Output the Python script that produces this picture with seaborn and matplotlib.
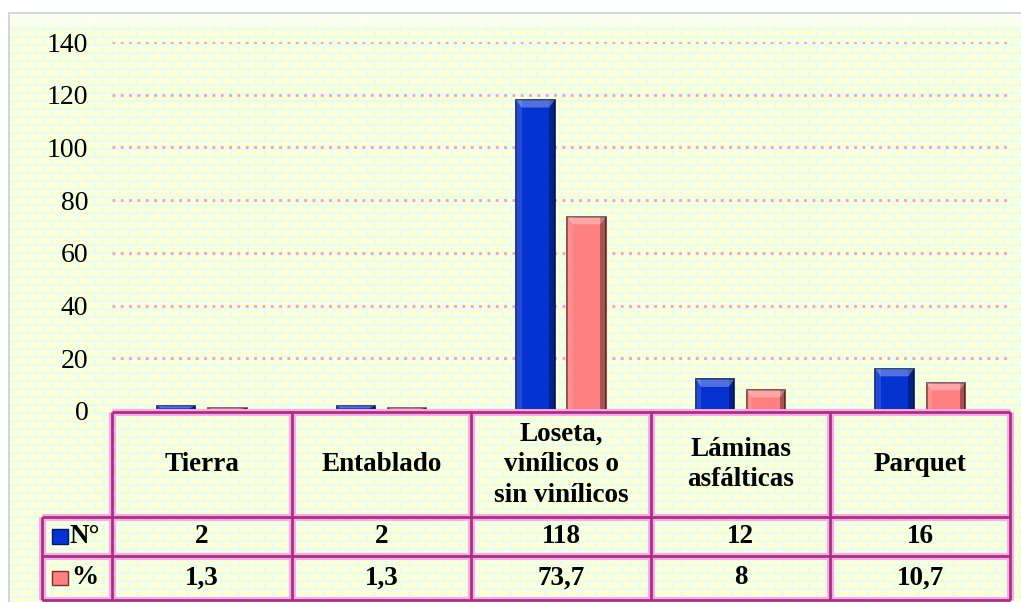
import numpy as np
import pandas as pd
import seaborn as sns
import matplotlib.pyplot as plt
from matplotlib.patches import Rectangle, Polygon

# data
categorias = ['Tierra', 'Entablado', 'Loseta,\nvinílicos o\nsin vinílicos',
              'Láminas\nasfálticas', 'Parquet']
n_valores = [2, 2, 118, 12, 16]
pct_valores = [1.3, 1.3, 73.7, 8, 10.7]
n_texto = ['2', '2', '118', '12', '16']
pct_texto = ['1,3', '1,3', '73,7', '8', '10,7']
series = ['N°', '%']
colores = ['#0533D2', '#FF8080']
bordes = ['#001A70', '#7A3030']
yticks = [0, 20, 40, 60, 80, 100, 120, 140]

df = pd.DataFrame({
    'categoria': categorias * 2,
    'valor': n_valores + pct_valores,
    'serie': [series[0]] * 5 + [series[1]] * 5,
})

W, H = 1021, 602
fig = plt.figure(figsize=(W / 100, H / 100), dpi=100)

# brick-like background
yy, xx = np.mgrid[0:H, 0:W]
fila = (yy - 12) // 8
pos_y = (yy - 12) % 8
pos_x = (xx + (fila % 2) * 8) % 17
mortero = (pos_y < 2) | (pos_x < 2)
amarillo = np.array([1.0, 1.0, 0.83])
cian = np.array([0.88, 1.0, 0.98])
img = np.where(mortero[..., None], cian, amarillo)
img[(xx < 8) | (yy < 12)] = 1.0
img[(yy >= 12) & (yy < 14) & (xx >= 8)] = [0.82, 0.85, 0.85]
img[(xx >= 8) & (xx < 10) & (yy >= 12)] = [0.82, 0.85, 0.85]
brillo = (yy >= 14) & (yy < 26) & (xx >= 10)
img[brillo] = img[brillo] * 0.4 + 0.6
fig.figimage(img, 0, 0, zorder=-10)

ax = fig.add_axes([112 / W, 1 - 411 / H, (1010 - 112) / W, (411 - 42) / H])
ax.set_zorder(2)
ax.set_facecolor('none')

sns.barplot(data=df, x='categoria', y='valor', hue='serie', palette=colores,
            width=0.57, gap=0.25, legend=False, ax=ax, zorder=3,
            saturation=1)
barras = list(ax.patches)
for i, barra in enumerate(barras):
    barra.set_edgecolor(bordes[i // 5])
    barra.set_linewidth(1.2)
    # bevel effect taken from the bar geometry
    x0, w, h = barra.get_x(), barra.get_width(), barra.get_height()
    b = w * 0.14
    bh = min(b * 179.6 / (369 / 140) * 1.4, h * 0.5)
    ax.add_patch(Rectangle((x0 + w - b, 0), b, h, facecolor='black', alpha=0.35,
                           linewidth=0, zorder=3.5))
    ax.add_patch(Rectangle((x0, 0), b, h, facecolor='white', alpha=0.12,
                           linewidth=0, zorder=3.5))
    ax.add_patch(Polygon([(x0, h), (x0 + w, h), (x0 + w - b, h - bh), (x0 + b, h - bh)],
                         closed=True, facecolor='white', alpha=0.3, linewidth=0,
                         zorder=3.6))

ax.set_ylim(0, 140)
ax.set_xlim(-0.5, 4.5)
ax.set_yticks(yticks)
ax.set_yticklabels([str(v) for v in yticks], family='Liberation Serif', fontsize=20)
ax.tick_params(axis='y', length=0, pad=17)
ax.set_xticks([])
ax.set_xlabel('')
ax.set_ylabel('')
for s in ax.spines.values():
    s.set_visible(False)
ax.yaxis.grid(True, color='#F79BC8', linestyle=(0, (1, 2)), linewidth=2)
ax.set_axisbelow(True)


# data table below the axes
def ya(ypx):
    return (411 - ypx) / (411 - 42)


tr = ax.get_xaxis_transform()
borde = '#A3347C'
glow = '#FFA6F0'
y_top, y_h, y_n, y_p = ya(412), ya(517), ya(556), ya(600)
x_left = -0.5 - 70 / 179.6


def linea(xs, ys):
    ax.plot(xs, ys, transform=tr, color=glow, linewidth=5, clip_on=False, zorder=4,
            solid_capstyle='butt')
    ax.plot(xs, ys, transform=tr, color=borde, linewidth=2, clip_on=False, zorder=5,
            solid_capstyle='butt')


linea([-0.5, 4.5], [y_top, y_top])
for yv in [y_h, y_n, y_p]:
    linea([x_left, 4.5], [yv, yv])
for i in range(6):
    linea([i - 0.5, i - 0.5], [y_top, y_p])
linea([x_left, x_left], [y_h, y_p])

fuente = dict(family='Liberation Serif', fontweight='bold', fontsize=19.5,
              ha='center', va='center', transform=tr, clip_on=False, zorder=6)
for i in range(5):
    ax.text(i, (y_top + y_h) / 2, categorias[i], linespacing=1.3, **fuente)
    ax.text(i, (y_h + y_n) / 2, n_texto[i], **fuente)
    ax.text(i, (y_n + y_p) / 2, pct_texto[i], **fuente)

x_key = -0.5 - 60 / 179.6
for j, yv in enumerate([(y_h + y_n) / 2, (y_n + y_p) / 2]):
    ax.add_patch(Rectangle((x_key, yv - 0.02), 16 / 179.6, 0.04, transform=tr,
                           facecolor=colores[j], edgecolor=bordes[j], linewidth=1,
                           clip_on=False, zorder=6))
    ax.text(-0.5 - 27 / 179.6, yv, series[j], family='Liberation Serif',
            fontweight='bold', fontsize=19.5, ha='center', va='center',
            transform=tr, clip_on=False, zorder=6)

fig.savefig('out.png', dpi=100)
